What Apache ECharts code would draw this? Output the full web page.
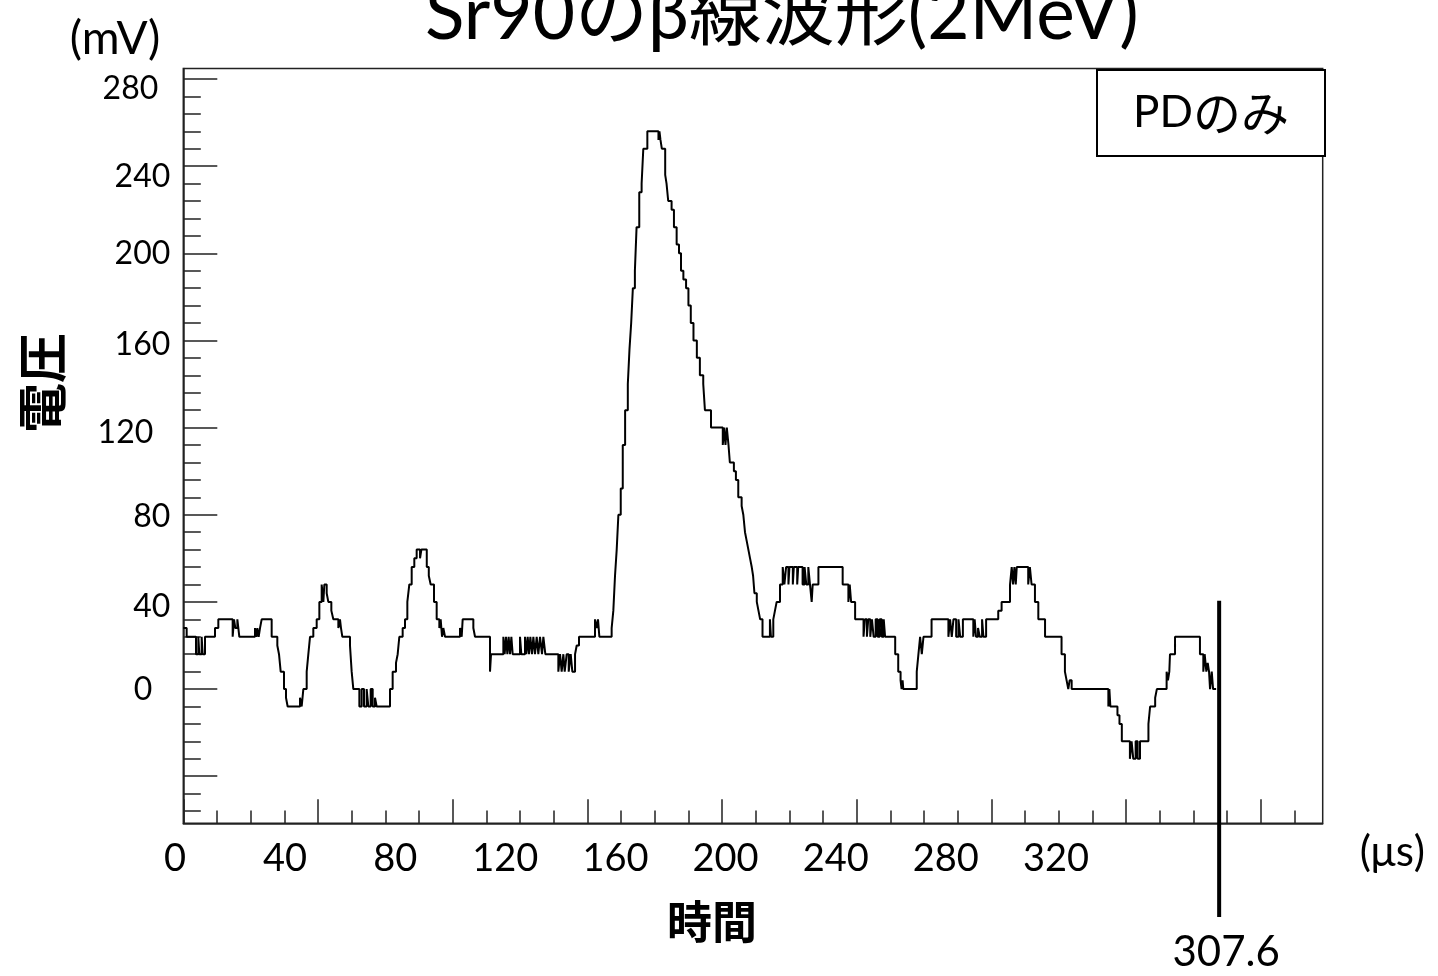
<!DOCTYPE html>
<html>
<head>
<meta charset="utf-8">
<title>Sr90のβ線波形(2MeV)</title>
<script src="https://cdn.jsdelivr.net/npm/echarts@6.0.0/dist/echarts.min.js"></script>
<style>
  html, body { margin: 0; padding: 0; background: #fff; }
  #chart { width: 1438px; height: 976px; }
</style>
</head>
<body>
<div id="chart"></div>
<script>
// waveform: level (mV) holds from each time (µs) until the next one
const sampleTimes = [
  0, 1.0, 3.77, 4.46, 4.76, 5.45, 5.75, 6.44, 9.41, 10.4,
  14.66, 15.06, 15.45, 16.05, 16.64, 21.29, 21.69, 21.99, 22.38, 22.78,
  23.27, 26.24, 27.92, 28.42, 28.92, 29.9, 30.5, 30.99, 34.66, 35.15,
  35.65, 36.64, 37.13, 37.63, 38.61, 39.61, 40.4, 41.09, 41.59, 41.88,
  42.58, 43.07, 43.96, 44.55, 46.04, 46.53, 46.83, 47.23, 49.5, 50.0,
  50.49, 52.28, 52.97, 53.66, 54.45, 54.95, 55.64, 56.24, 56.93, 57.42,
  61.38, 62.17, 63.16, 63.66, 64.15, 65.14, 65.84, 66.53, 67.12, 67.82,
  68.6, 69.3, 70.3, 70.7, 72.3, 72.9, 73.46, 74.45, 75.24, 76.03,
  76.43, 76.83, 77.22, 77.72, 82.17, 82.67, 82.96, 86.13, 86.63, 91.08,
  91.38, 95.04, 95.43, 95.83, 96.23, 96.62, 97.02, 97.42, 97.81, 99.99,
  100.38, 101.47, 101.87, 102.27, 102.66, 103.06, 103.55, 103.95, 104.44, 104.94,
  105.43, 105.93, 106.52, 106.92, 107.51, 111.37, 111.87, 112.36, 112.86, 113.26,
  113.85, 114.45, 115.04, 115.53, 116.33, 116.82, 117.51, 122.26, 122.76, 123.15,
  123.55, 127.2, 127.7, 128.2, 128.7, 129.2, 129.9, 130.5, 131.2, 132.0,
  132.5, 133.0, 133.5, 134.1, 134.6, 135.4, 136.1, 136.6, 137.8, 141.1,
  141.4, 141.7, 142.1, 143.1, 143.5, 144.0, 145.0, 145.7, 146.5, 147.2,
  147.8, 148.5, 149.3, 150.0, 150.7, 151.5, 152.5, 153.4, 154.4, 154.9,
  156.7, 160.2, 160.6, 161.0, 161.4, 161.9, 162.3, 163.5, 164.1, 164.8,
  165.8, 166.3, 166.8, 167.3, 167.8, 168.3, 168.8, 169.2, 169.6, 170.3,
  170.8, 171.3, 172.0, 174.2, 174.5, 175.2, 175.7, 176.2, 177.2, 178.0,
  178.5, 179.0, 179.7, 180.0, 181.0, 181.3, 182.3, 182.6, 183.9, 184.5,
  185.0, 185.6, 186.1, 186.6, 186.9, 188.6, 195.8, 197.5, 197.9, 198.3,
  199.5, 202.0, 202.4, 203.0, 203.4, 204.0, 204.5, 205.0, 205.6, 206.2,
  206.8, 207.4, 208.0, 208.4, 211.4, 212.3, 213.0, 213.3, 213.6, 213.8,
  217.8, 218.3, 218.8, 219.3, 219.8, 222.2, 227.2, 227.7, 228.2, 228.7,
  229.5, 230.2, 230.7, 231.5, 234.6, 235.0, 235.4, 236.0, 236.5, 237.2,
  237.6, 238.4, 242.0, 243.0, 245.5, 246.0, 246.4, 246.8, 247.2, 247.5,
  250.9, 251.4, 251.9, 252.9, 253.9, 255.9, 260.8, 261.8, 262.3, 262.8,
  263.2, 263.8, 274.7, 275.0, 275.3, 277.4, 278.0, 278.7, 281.1, 281.6,
  282.1, 282.8, 283.4, 284.1, 286.6, 287.1, 288.6, 289.1, 292.0, 292.4,
  292.8, 293.0, 294.5, 301.9, 302.9, 303.3, 303.8, 304.2, 304.6, 304.9,
  305.4, 305.8, 306.7
];
const sampleVolts = [
  28, 24, 16, 24, 16, 24, 16, 24, 28, 32,
  24, 32, 28, 32, 24, 28, 24, 28, 24, 28,
  32, 24, 20, 16, 8, 0, -4, -8, -4, -8,
  0, 8, 16, 24, 28, 32, 40, 48, 40, 48,
  44, 40, 36, 32, 28, 32, 28, 24, 20, 8,
  0, -8, 0, -8, 0, -8, 0, -8, -4, -8,
  0, 8, 12, 16, 24, 28, 32, 40, 48, 56,
  60, 64, 60, 64, 56, 52, 48, 40, 32, 28,
  32, 24, 28, 24, 28, 24, 32, 28, 24, 8,
  16, 24, 16, 24, 16, 24, 16, 24, 16, 24,
  16, 24, 16, 24, 16, 24, 16, 24, 16, 24,
  16, 24, 16, 24, 16, 8, 16, 8, 16, 8,
  16, 8, 16, 8, 16, 20, 24, 32, 28, 32,
  24, 28, 36, 52, 64, 80, 92, 112, 128, 140,
  156, 168, 184, 192, 212, 228, 232, 248, 256, 252,
  256, 252, 248, 236, 232, 224, 220, 212, 204, 200,
  192, 188, 184, 176, 168, 160, 152, 144, 140, 128,
  120, 112, 120, 112, 120, 112, 104, 100, 96, 88,
  84, 80, 72, 68, 64, 60, 56, 52, 44, 40,
  36, 32, 24, 32, 24, 32, 36, 40, 48, 56,
  48, 56, 48, 56, 48, 56, 48, 56, 48, 56,
  48, 56, 48, 40, 48, 56, 48, 40, 48, 40,
  32, 24, 32, 24, 32, 24, 32, 24, 32, 24,
  32, 24, 32, 24, 16, 8, 4, 0, 4, 0,
  8, 16, 24, 16, 24, 32, 24, 32, 24, 32,
  24, 32, 24, 32, 24, 32, 24, 28, 24, 32,
  24, 32, 36, 40, 48, 56, 48, 56, 48, 56,
  48, 56, 48, 40, 32, 24, 16, 8, 4, 0,
  4, 0, -8, 0, -8, -12, -16, -24, -32, -24,
  -32, -24, -32, -24, -16, -8, -4, 0, 8, 4,
  8, 16, 24, 16, 8, 16, 8, 12, 8, 0,
  8, 0, 0
];
const markerTime = 307.6;

// tick labels as they are printed on the slide
const xLabelValues = [0, 40, 80, 120, 160, 200, 240, 280, 320];
const yLabelValues = [0, 40, 80, 120, 160, 200, 240, 280];
// frame ticks
const xMajorTicks = [0, 40, 80, 120, 160, 200, 240, 280, 320];
const xMinorTicks = [10, 20, 30, 50, 60, 70, 90, 100, 110, 130, 140, 150, 170, 180, 190,
  210, 220, 230, 250, 260, 270, 290, 300, 310, 330];
const yMajorTicks = [-40, 0, 40, 80, 120, 160, 200, 240, 280];
const yMinorTicks = [-56, -48, -32, -24, -16, -8, 8, 16, 24, 32, 48, 56, 64, 72, 88, 96, 104, 112,
  128, 136, 144, 152, 168, 176, 184, 192, 208, 216, 224, 232, 248, 256, 264, 272];

const X_MIN = 0, X_MAX = 338.35;
const Y_MIN = -61.6, Y_MAX = 284.8;
const LABEL_X_MAX = 416.9;

const FONT = "Lato, 'Noto Sans CJK JP', sans-serif";
const CJK = "'Noto Sans CJK JP', sans-serif";
const INK = '#000';
const FRAME = '#222';

// hand placed y labels: [shift down, shift left]
const yLabelNudge = {
  0: [1, 18], 40: [5, 0], 80: [2, 0], 120: [5, 17],
  160: [4, 0], 200: [0, 0], 240: [11, 0], 280: [10, 12]
};
const yRich = {};
yLabelValues.forEach(v => {
  const [dy, dx] = yLabelNudge[v] || [0, 0];
  yRich['v' + v] = {
    fontSize: 32, fontFamily: FONT, color: INK,
    padding: [Math.max(dy, 0) * 2, dx, Math.max(-dy, 0) * 2, 0]
  };
});

const chart = echarts.init(document.getElementById('chart'));

const option = {
  animation: false,
  backgroundColor: '#fff',
  textStyle: { fontFamily: FONT, color: INK },
  title: [
    {
      text: 'Sr90のβ線波形(2MeV)',
      left: 420,
      top: -26,
      textStyle: { fontSize: 73, fontWeight: 'normal', fontFamily: FONT, color: INK }
    },
    {
      text: '{a|PD}{b|のみ}',
      left: 1097,
      top: 70,
      padding: [19, 36, 19, 36],
      borderColor: INK,
      borderWidth: 2,
      backgroundColor: '#fff',
      textStyle: {
        fontWeight: 'normal',
        rich: {
          a: { fontSize: 44, fontFamily: 'Lato', fontWeight: 'normal', color: INK },
          b: { fontSize: 48, fontFamily: CJK, fontWeight: 'normal', color: INK }
        }
      }
    }
  ],
  grid: [
    { left: 183.3, right: 115.3, top: 68.5, bottom: 152.7, show: true,
      borderColor: FRAME, borderWidth: 1.5, outerBoundsMode: 'none' },
    { left: 175, right: 115.3, top: 68.5, bottom: 152.7, outerBoundsMode: 'none' },
    { left: 183.3, right: 115.3, top: 600.7, bottom: 59, outerBoundsMode: 'none' }
  ],
  xAxis: [
    {
      type: 'value', gridIndex: 0, position: 'bottom', min: X_MIN, max: X_MAX,
      axisLine: { show: true, onZero: false, lineStyle: { color: FRAME, width: 1.5 } },
      axisTick: { show: true, inside: true, length: 24, customValues: xMajorTicks,
        lineStyle: { color: FRAME, width: 1.5 } },
      axisLabel: { show: false },
      splitLine: { show: false },
      name: '(μs)', nameLocation: 'end', nameGap: 37,
      nameTextStyle: { fontSize: 42, fontFamily: FONT, color: INK, verticalAlign: 'top', padding: [8, 0, 0, 0] }
    },
    {
      type: 'value', gridIndex: 0, position: 'bottom', min: X_MIN, max: X_MAX,
      axisLine: { show: false, onZero: false },
      axisTick: { show: true, inside: true, length: 12.7, customValues: xMinorTicks,
        lineStyle: { color: FRAME, width: 1.5 } },
      axisLabel: { show: false },
      splitLine: { show: false },
      name: '時間', nameLocation: 'middle', nameGap: 76,
      nameTextStyle: { fontSize: 45, fontWeight: 'bold', fontFamily: CJK, color: INK, padding: [0, 82, 0, 0] }
    },
    {
      type: 'value', gridIndex: 1, position: 'bottom', min: 0, max: LABEL_X_MAX,
      axisLine: { show: false, onZero: false },
      axisTick: { show: false },
      axisLabel: { show: true, customValues: xLabelValues, fontSize: 38, fontFamily: FONT,
        color: INK, margin: 16 },
      splitLine: { show: false }
    },
    { type: 'value', gridIndex: 2, min: X_MIN, max: X_MAX, show: false }
  ],
  yAxis: [
    {
      type: 'value', gridIndex: 0, position: 'left', min: Y_MIN, max: Y_MAX,
      axisLine: { show: true, onZero: false, lineStyle: { color: FRAME, width: 1.5 } },
      axisTick: { show: true, inside: true, length: 34, customValues: yMajorTicks,
        lineStyle: { color: FRAME, width: 1.5 } },
      axisLabel: { show: true, customValues: yLabelValues, margin: 13,
        formatter: v => '{v' + v + '|' + v + '}', rich: yRich },
      splitLine: { show: false },
      name: '電圧', nameLocation: 'middle', nameRotate: 90, nameGap: 116,
      nameTextStyle: { fontSize: 50, fontWeight: 'bold', fontFamily: CJK, color: INK, padding: [0, 0, 0, 126] }
    },
    {
      type: 'value', gridIndex: 0, position: 'left', min: Y_MIN, max: Y_MAX,
      axisLine: { show: false, onZero: false },
      axisTick: { show: true, inside: true, length: 17.5, customValues: yMinorTicks,
        lineStyle: { color: FRAME, width: 1.5 } },
      axisLabel: { show: false },
      splitLine: { show: false },
      name: '(mV)', nameLocation: 'end', nameGap: 6,
      nameTextStyle: { fontSize: 46, fontFamily: FONT, color: INK, align: 'right', padding: [0, 23, 0, 0] }
    },
    { type: 'value', gridIndex: 1, min: 0, max: 1, show: false },
    { type: 'value', gridIndex: 2, min: 0, max: 1, show: false }
  ],
  series: [
    {
      name: 'PDのみ',
      type: 'line',
      xAxisIndex: 0,
      yAxisIndex: 0,
      step: 'end',
      symbol: 'none',
      lineStyle: { color: INK, width: 2 },
      data: sampleTimes.map((t, i) => [t, sampleVolts[i]])
    },
    {
      type: 'line',
      xAxisIndex: 3,
      yAxisIndex: 3,
      symbol: 'none',
      clip: false,
      lineStyle: { color: INK, width: 4 },
      data: [[markerTime, 0], [markerTime, 1]]
    },
    {
      type: 'scatter',
      xAxisIndex: 3,
      yAxisIndex: 3,
      symbolSize: 0,
      itemStyle: { color: 'rgba(0,0,0,0)', opacity: 1 },
      label: {
        show: true, position: 'bottom', distance: 14, offset: [7, 0],
        fontSize: 42, fontFamily: FONT, color: INK,
        formatter: p => p.value[0].toFixed(1)
      },
      data: [[markerTime, 0]]
    }
  ]
};

chart.setOption(option);
</script>
</body>
</html>
